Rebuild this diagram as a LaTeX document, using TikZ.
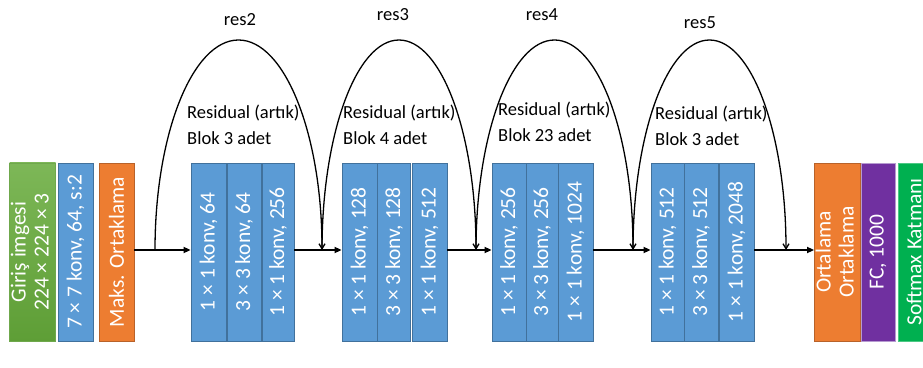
\documentclass[tikz,border=0pt]{standalone}
\usepackage{fontspec}
\setmainfont{Carlito}
\usetikzlibrary{arrows.meta}

\definecolor{cblue}{HTML}{5B9BD5}
\definecolor{cblueedge}{HTML}{41719C}
\definecolor{corange}{HTML}{ED7D31}
\definecolor{corangeedge}{HTML}{B8622A}
\definecolor{cgreentop}{HTML}{7DB757}
\definecolor{cgreenbot}{HTML}{5E9E36}
\definecolor{cgreenedge}{HTML}{6FA84C}
\definecolor{cpurple}{HTML}{7030A0}
\definecolor{cpurpleedge}{HTML}{B69AD0}
\definecolor{csoft}{HTML}{00B050}

\begin{document}
\begin{tikzpicture}[x=1pt,y=1pt,
  blk/.style={rectangle, inner sep=0pt, minimum height=178pt, text=white,
    font=\fontsize{21.5}{23}\selectfont, line width=0.8pt},
  convbox/.style={blk, fill=cblue, draw=cblueedge},
  poolbox/.style={blk, fill=corange, draw=corangeedge},
  flow/.style={line width=1.6pt, -{Triangle[length=7pt,width=6pt]}},
  skip/.style={line width=1.3pt, -{Straight Barb[length=5pt,width=6pt]}},
  tag/.style={font=\fontsize{18.5}{26}\selectfont, inner sep=0pt},
  note/.style={font=\fontsize{18.5}{26}\selectfont, inner sep=0pt, align=left, anchor=west}
]
\useasboundingbox (0,0) rectangle (923,367);
\fill[white] (0,0) rectangle (923,367);

% input, stem and pooling
\node[blk, top color=cgreentop, bottom color=cgreenbot, draw=cgreenedge, minimum width=41pt]
  (in) at (32.5,115) {\rotatebox{90}{\begin{tabular}{@{}c@{}}Giriş imgesi\\224 × 224 × 3\end{tabular}}};
\node[convbox, minimum width=35pt] (c1) at (75.5,115) {\rotatebox{90}{7 × 7 konv, 64, s:2}};
\node[poolbox, minimum width=35pt] (mp) at (116.5,115) {\rotatebox{90}{Maks. Ortaklama}};

% res2
\node[convbox, minimum width=35pt] (b1a) at (208.5,115) {\rotatebox{90}{1 × 1 konv, 64}};
\node[convbox, minimum width=34pt] (b1b) at (244,115) {\rotatebox{90}{3 × 3 konv, 64}};
\node[convbox, minimum width=32pt] (b1c) at (278,115) {\rotatebox{90}{1 × 1 konv, 256}};
% res3
\node[convbox, minimum width=35pt] (b2a) at (359.5,115) {\rotatebox{90}{1 × 1 konv, 128}};
\node[convbox, minimum width=33pt] (b2b) at (394,115) {\rotatebox{90}{3 × 3 konv, 128}};
\node[convbox, minimum width=35pt] (b2c) at (429.5,115) {\rotatebox{90}{1 × 1 konv, 512}};
% res4
\node[convbox, minimum width=34pt] (b3a) at (509,115) {\rotatebox{90}{1 × 1 konv, 256}};
\node[convbox, minimum width=32pt] (b3b) at (542,115) {\rotatebox{90}{3 × 3 konv, 256}};
\node[convbox, minimum width=35pt] (b3c) at (575.5,115) {\rotatebox{90}{1 × 1 konv, 1024}};
% res5
\node[convbox, minimum width=33pt] (b4a) at (667.5,115) {\rotatebox{90}{1 × 1 konv, 512}};
\node[convbox, minimum width=34pt] (b4b) at (701,115) {\rotatebox{90}{3 × 3 konv, 512}};
\node[convbox, minimum width=35pt] (b4c) at (736.5,115) {\rotatebox{90}{1 × 1 konv, 2048}};

% head
\node[poolbox, minimum width=39pt] (ap) at (837.5,115)
  {\rotatebox{90}{\begin{tabular}{@{}c@{}}Ortalama\\Ortaklama\end{tabular}}};
\node[blk, fill=cpurple, draw=cpurpleedge, minimum width=34pt] (fc) at (878,115) {\rotatebox{90}{FC, 1000}};
\node[blk, fill=csoft, draw=csoft!70!white, minimum width=32pt] (sm) at (914,115) {\rotatebox{90}{Softmax Katmanı}};

% junctions on the main path
\coordinate (j1) at (155,117);
\coordinate (j2) at (322,117);
\coordinate (j3) at (476,117);
\coordinate (j4) at (633,117);
\coordinate (j5) at (786,117);

% main path
\draw[flow] (mp.east |- j1) -- (b1a.west |- j1);
\draw[flow] (b1c.east |- j1) -- (b2a.west |- j1);
\draw[flow] (b2c.east |- j1) -- (b3a.west |- j1);
\draw[flow] (b3c.east |- j1) -- (b4a.west |- j1);
\draw[flow] (b4c.east |- j1) -- (ap.west |- j1);

% shortcut arcs over each stage
\draw[skip] (j1) arc[start angle=180, end angle=0, x radius=83.5, y radius=210];
\draw[skip] (j2) arc[start angle=180, end angle=0, x radius=77, y radius=210];
\draw[skip] (j3) arc[start angle=180, end angle=0, x radius=78.5, y radius=210];
\draw[skip] (j4) arc[start angle=180, end angle=0, x radius=76.5, y radius=210];

% stage names
\node[tag] (r2) at (240,347) {res2};
\node[tag] (r3) at (393,352) {res3};
\node[tag] (r4) at (542,352) {res4};
\node[tag] (r5) at (700,344) {res5};

\node[note] (n2) at (187,242) {Residual (artık)\\Blok 3 adet};
\node[note] (n3) at (343,242) {Residual (artık)\\Blok 4 adet};
\node[note] (n4) at (498,245) {Residual (artık)\\Blok 23 adet};
\node[note] (n5) at (655,241.5) {Residual (artık)\\Blok 3 adet};
\end{tikzpicture}
\end{document}
